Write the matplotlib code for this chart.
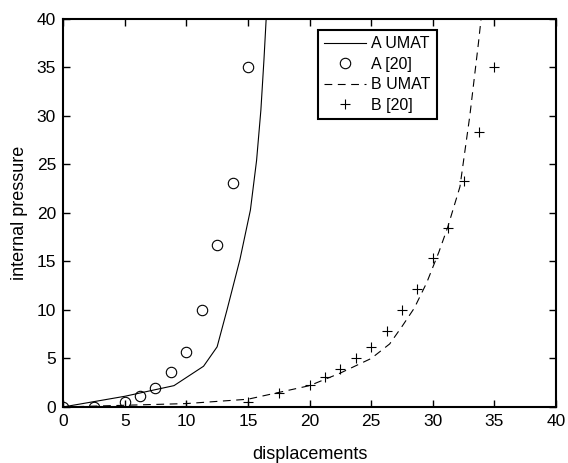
import matplotlib
matplotlib.use("Agg")
import matplotlib.pyplot as plt

plt.rcParams['font.family'] = ['Liberation Sans', 'DejaVu Sans']

# A UMAT curve
a_umat_x = [0, 2.5, 5.0, 7.0, 9.0, 11.4, 12.5, 13.3, 14.35, 15.2, 15.7, 16.05, 16.3, 16.5]
a_umat_y = [0, 0.55, 1.1, 1.65, 2.2, 4.2, 6.2, 10.0, 15.2, 20.3, 25.4, 30.6, 35.8, 40.5]

# A [20] reference points
a_ref_x = [0, 2.5, 5.0, 6.25, 7.5, 8.75, 10.0, 11.25, 12.5, 13.75, 15.0]
a_ref_y = [0, 0, 0.55, 1.1, 1.95, 3.6, 5.7, 10.0, 16.7, 23.1, 35.0]

# B UMAT curve
b_umat_x = [0, 10, 15, 20, 22.5, 25, 26.5, 27.5, 28.5, 29.5, 30.5, 31.2, 32.2, 33.0, 33.7, 34.0]
b_umat_y = [0, 0.35, 0.8, 2.2, 3.5, 5.0, 6.5, 8.3, 10.2, 12.8, 16.0, 18.5, 22.7, 30.0, 37.5, 41.0]

# B [20] reference points
b_ref_x = [0, 10, 15, 17.5, 20, 21.25, 22.5, 23.75, 25, 26.25, 27.5, 28.75, 30, 31.25, 32.5, 33.75, 35]
b_ref_y = [0, 0.1, 0.55, 1.45, 2.25, 3.1, 3.9, 5.05, 6.15, 7.8, 10.0, 12.2, 15.35, 18.5, 23.3, 28.4, 35.1]

x_ticks = [0, 5, 10, 15, 20, 25, 30, 35, 40]
y_ticks = [0, 5, 10, 15, 20, 25, 30, 35, 40]

fig = plt.figure(figsize=(5.68, 4.63), dpi=100)
ax = fig.add_axes([0.111, 0.121, 0.868, 0.838])

ax.plot(a_umat_x, a_umat_y, color='black', lw=0.8, label='A UMAT')
ax.plot(a_ref_x, a_ref_y, linestyle='none', marker='o', markersize=7.5,
        markerfacecolor='none', markeredgecolor='black', markeredgewidth=0.8, label='A [20]')
ax.plot(b_umat_x, b_umat_y, color='black', lw=0.8, linestyle=(0, (7, 5)), label='B UMAT')
ax.plot(b_ref_x, b_ref_y, linestyle='none', marker='+', markersize=7.5,
        color='black', markeredgewidth=0.8, label='B [20]')

ax.set_xlim(0, 40)
ax.set_ylim(0, 40)
ax.set_xticks(x_ticks)
ax.set_yticks(y_ticks)
ax.tick_params(direction='in', length=5, width=1.0, top=True, right=True,
               labelsize=12.5, pad=5)
for s in ax.spines.values():
    s.set_linewidth(1.5)

ax.set_xlabel('displacements', fontsize=13, labelpad=12)
ax.set_ylabel('internal pressure', fontsize=13, labelpad=6)

leg = ax.legend(loc='upper left', bbox_to_anchor=(0.517, 0.972), fontsize=11.5,
                frameon=True, fancybox=False, edgecolor='black', framealpha=1,
                handlelength=2.6, borderpad=0.4, labelspacing=0.35, handletextpad=0.35,
                borderaxespad=0)
leg.get_frame().set_linewidth(1.5)

fig.savefig('out.png', dpi=100)
